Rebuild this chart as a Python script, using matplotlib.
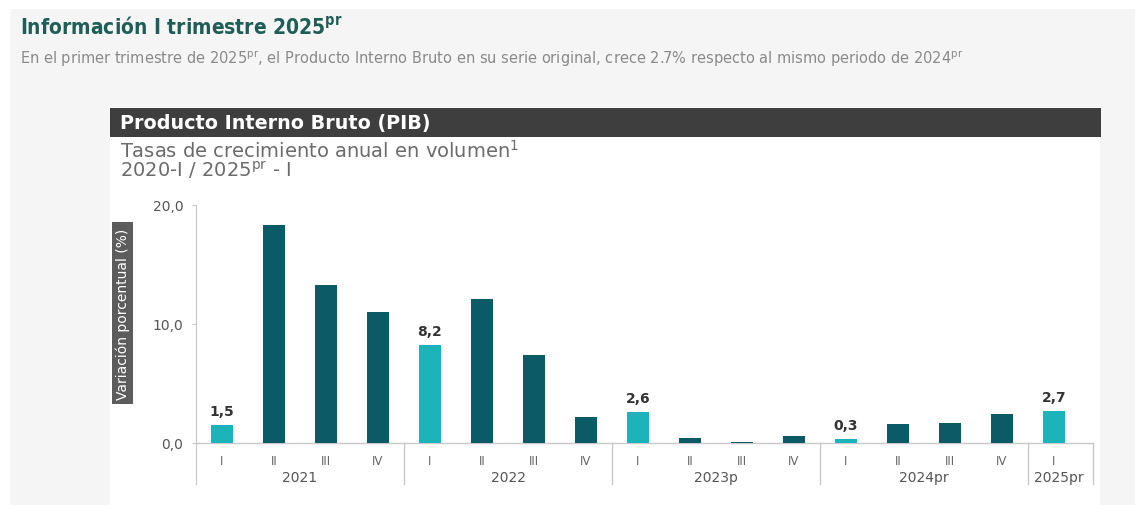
import matplotlib
matplotlib.use("Agg")
import matplotlib.pyplot as plt
from matplotlib.patches import Rectangle

# datos del grafico
trimestres = ['I', 'II', 'III', 'IV'] * 4 + ['I']
anios = ['2021', '2022', '2023p', '2024pr', '2025pr']
valores = [1.5, 18.3, 13.3, 11.0,
           8.2, 12.1, 7.4, 2.2,
           2.6, 0.4, 0.05, 0.6,
           0.3, 1.6, 1.7, 2.4,
           2.7]
etiquetas = {0: '1,5', 4: '8,2', 8: '2,6', 12: '0,3', 16: '2,7'}
yticks = [0, 10, 20]
ytick_labels = ['0,0', '10,0', '20,0']

W, H = 1135, 506
claro = '#1db3ba'
oscuro = '#0c5a66'
gris_txt = '#6b6b6b'
fuente = 'DejaVu Sans'


def fx(px):
    return px / W


def fy(py):
    return 1 - py / H


def main():
    fig = plt.figure(figsize=(W / 100, H / 100), dpi=100)
    fig.patch.set_facecolor('white')

    # fondo gris y panel blanco
    fig.patches.append(Rectangle((fx(10), 0), fx(W - 10), fy(10), transform=fig.transFigure,
                                 facecolor='#f5f5f5', edgecolor='none', zorder=0))
    fig.patches.append(Rectangle((fx(110), 0), fx(990), fy(108), transform=fig.transFigure,
                                 facecolor='white', edgecolor='none', zorder=0))
    fig.patches.append(Rectangle((fx(110), fy(138)), fx(991), (138 - 109) / H, transform=fig.transFigure,
                                 facecolor='#3e3e3e', edgecolor='none', zorder=1))
    fig.patches.append(Rectangle((fx(112), fy(405)), fx(21), (405 - 223) / H, transform=fig.transFigure,
                                 facecolor='#5c5c5c', edgecolor='none', zorder=1))

    # textos de cabecera
    fig.text(fx(20), fy(27), 'Información I trimestre 2025$^{\\mathregular{pr}}$', fontsize=15,
             fontweight='bold', color='#1f5e57', family=fuente, fontstretch='condensed',
             va='center', ha='left')
    fig.text(fx(20), fy(59),
             'En el primer trimestre de 2025$^{\\mathregular{pr}}$, el Producto Interno Bruto en su serie original, '
             'crece 2.7% respecto al mismo periodo de 2024$^{\\mathregular{pr}}$',
             fontsize=10.5, color='#8a8a8a', family=fuente, va='center', ha='left')
    fig.text(fx(120), fy(124), 'Producto Interno Bruto (PIB)', fontsize=13.8, fontweight='bold',
             color='white', family=fuente, va='center', ha='left')
    fig.text(fx(120), fy(151), 'Tasas de crecimiento anual en volumen$^{\\mathregular{1}}$', fontsize=14,
             color=gris_txt, family=fuente, va='center', ha='left')
    fig.text(fx(120), fy(171), '2020-I / 2025$^{\\mathregular{pr}}$ - I', fontsize=14,
             color=gris_txt, family=fuente, va='center', ha='left')
    fig.text(fx(122.5), fy(314), 'Variación porcentual (%)', fontsize=10, color='white',
             family=fuente, rotation=90, va='center', ha='center')

    # ejes
    ymin, ymax = -3.45, 20.0
    ax = fig.add_axes([fx(196), fy(485), fx(1093 - 196), (485 - 206) / H])
    ax.set_zorder(5)
    ax.set_facecolor('none')
    x = list(range(len(valores)))
    colores = [claro if t == 'I' else oscuro for t in trimestres]
    ax.bar(x, valores, width=0.42, color=colores, zorder=3)
    ax.set_xlim(-0.5, 16.75)
    ax.set_ylim(ymin, ymax)

    for sp in ['top', 'right', 'bottom']:
        ax.spines[sp].set_visible(False)
    ax.spines['left'].set_color('#c8c8c8')
    ax.set_xticks([])
    ax.set_yticks(yticks)
    ax.set_yticklabels(ytick_labels, fontsize=10, color='#555555', family=fuente)
    ax.tick_params(axis='y', length=3, color='#c8c8c8', pad=6)

    ax.axhline(0, color='#c8c8c8', linewidth=1, zorder=2)
    for sep in [3.5, 7.5, 11.5, 15.5, 16.75]:
        ax.plot([sep, sep], [0, ymin], color='#c8c8c8', linewidth=1, clip_on=False)

    for i, t in enumerate(trimestres):
        ax.text(i, -1.45, t, ha='center', va='center', fontsize=8.5, color='#666666', family=fuente)
    centros = [1.5, 5.5, 9.5, 13.5, 16.1]
    for c, a in zip(centros, anios):
        ax.text(c, -2.85, a, ha='center', va='center', fontsize=10, color='#555555', family=fuente)

    for i, lab in etiquetas.items():
        ax.text(i, valores[i] + 0.6, lab, ha='center', va='bottom', fontsize=10,
                fontweight='bold', color='#333333', family=fuente)

    fig.savefig('out.png', dpi=100)


if __name__ == '__main__':
    main()
